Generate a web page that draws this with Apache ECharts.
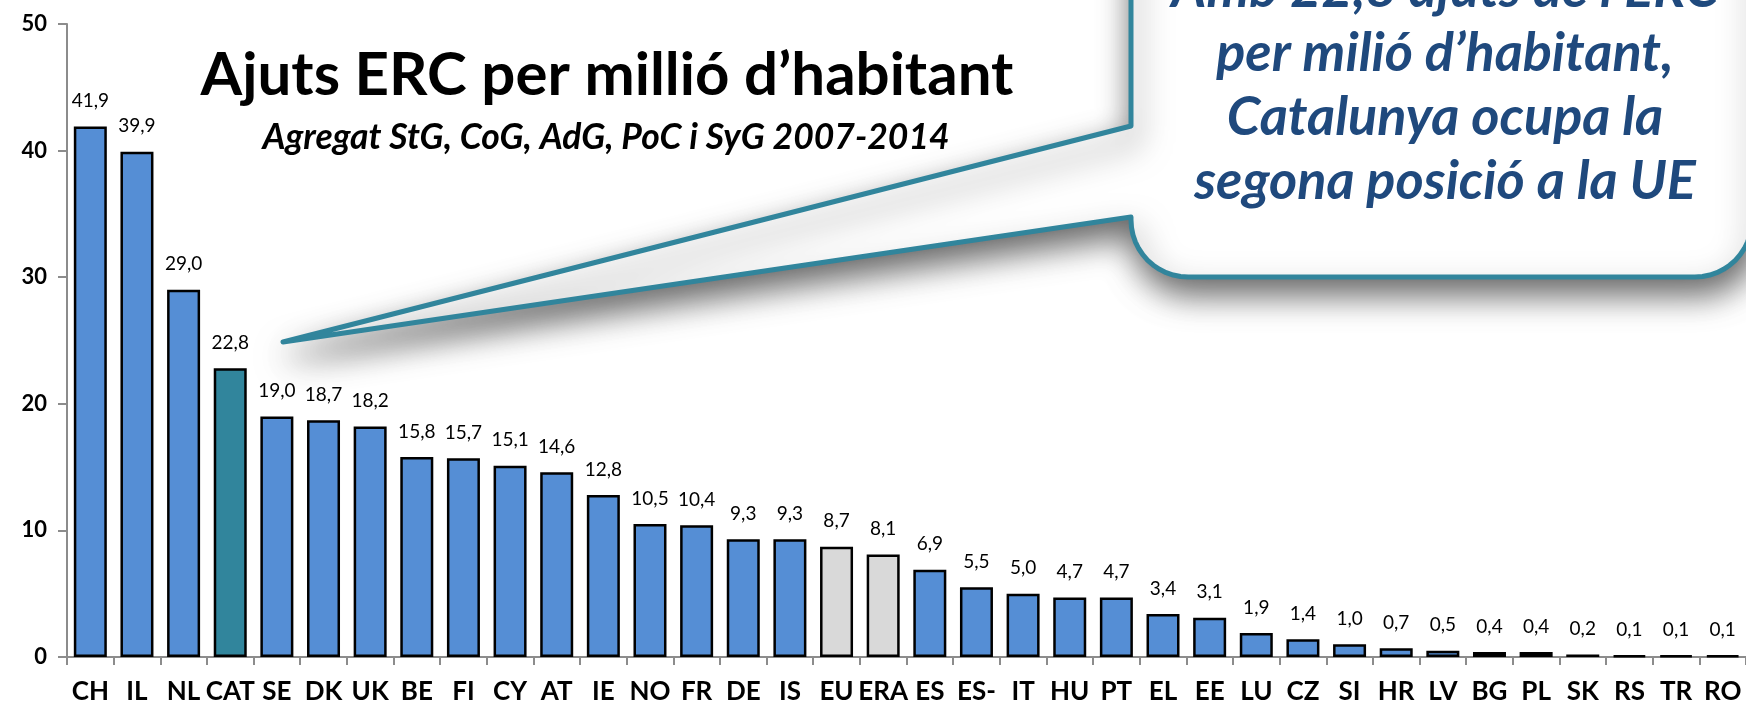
<!DOCTYPE html>
<html>
<head>
<meta charset="utf-8">
<script src="https://cdn.jsdelivr.net/npm/echarts@6/dist/echarts.min.js"></script>
<style>
html,body{margin:0;padding:0;background:#fff;}
#chart{width:1746px;height:705px;}
</style>
</head>
<body>
<div id="chart"></div>
<script>
const categories = ['CH','IL','NL','CAT','SE','DK','UK','BE','FI','CY','AT','IE','NO','FR','DE','IS','EU','ERA','ES','ES-','IT','HU','PT','EL','EE','LU','CZ','SI','HR','LV','BG','PL','SK','RS','TR','RO'];
const values = [41.9,39.9,29.0,22.8,19.0,18.7,18.2,15.8,15.7,15.1,14.6,12.8,10.5,10.4,9.3,9.3,8.7,8.1,6.9,5.5,5.0,4.7,4.7,3.4,3.1,1.9,1.4,1.0,0.7,0.5,0.4,0.4,0.2,0.1,0.1,0.1];
const highlighted = ['CAT'];
const aggregates = ['EU','ERA'];
const yTicks = [0,10,20,30,40,50];

const titleText = 'Ajuts ERC per millió d\u2019habitant';
const subtitleText = 'Agregat StG, CoG, AdG, PoC i SyG 2007-2014';
const calloutLines = ['Amb 22,8 ajuts de l\u2019ERC','per milió d\u2019habitant,','Catalunya ocupa la','segona posició a la UE'];

const COLOR_MAIN = '#558ED5';
const COLOR_CAT = '#31859C';
const COLOR_AGG = '#D9D9D9';
const FONT = 'Lato, "Open Sans", sans-serif';

function fmt(v){ return v.toFixed(1).replace('.', ','); }

const chart = echarts.init(document.getElementById('chart'), null, {renderer:'canvas'});

// callout bubble shape (annotation)
function bubblePoints(){
  const L = 1131, R = 1752, B = 277, T = -80, r = 57;
  const pts = [[L, T],[L,126],[283,342],[L,217]];
  for(let i=0;i<=12;i++){ const a=Math.PI*(1 - i/24); pts.push([L + r + r*Math.cos(a), B - r + r*Math.sin(a)]); }
  for(let i=0;i<=12;i++){ const a=Math.PI*(0.5 - i/24); pts.push([R - r + r*Math.cos(a), B - r + r*Math.sin(a)]); }
  pts.push([R, T]);
  return pts;
}

const option = {
  animation:false,
  backgroundColor:'#ffffff',
  grid:{left:67, right:-8.5, top:24, bottom:48, containLabel:false},
  xAxis:{
    type:'category',
    data:categories,
    boundaryGap:true,
    axisLine:{show:true, lineStyle:{color:'#8c8c8c', width:2}},
    axisTick:{show:true, length:8, lineStyle:{color:'#8c8c8c', width:2}},
    axisLabel:{show:true, interval:0, color:'#000', fontFamily:FONT, fontWeight:'bold', fontSize:26, margin:22},
    splitLine:{show:false}
  },
  yAxis:{
    type:'value',
    min:yTicks[0], max:yTicks[yTicks.length-1], interval:10,
    axisLine:{show:true, lineStyle:{color:'#8c8c8c', width:2}},
    axisTick:{show:true, length:9, lineStyle:{color:'#8c8c8c', width:2}},
    axisLabel:{color:'#000', fontFamily:FONT, fontWeight:'bold', fontSize:22, margin:20},
    splitLine:{show:false}
  },
  series:[{
    type:'bar',
    barWidth:33,
    data: values.map((v,i)=>({
      value:v,
      itemStyle:{
        color: highlighted.includes(categories[i]) ? COLOR_CAT : (aggregates.includes(categories[i]) ? COLOR_AGG : COLOR_MAIN),
        borderColor:'#000', borderWidth:2.5
      }
    })),
    label:{show:true, position:'top', distance:16, color:'#000', fontFamily:FONT, fontSize:19,
      formatter:(p)=>fmt(p.value)}
  }],
  graphic:[
    {type:'text', z:10,
      style:{text:titleText, x:607, y:76, textAlign:'center', textVerticalAlign:'middle', fill:'#000', font:'bold 60px ' + FONT}},
    {type:'text', z:10,
      style:{text:subtitleText, x:606, y:138, textAlign:'center', textVerticalAlign:'middle', fill:'#000', font:'italic bold 35.5px ' + FONT}},
    {type:'polygon', z:20,
      shape:{points:bubblePoints()},
      style:{fill:'#ffffff', stroke:COLOR_CAT, lineWidth:5, lineJoin:'round',
        shadowBlur:32, shadowColor:'rgba(0,0,0,0.6)', shadowOffsetX:4, shadowOffsetY:15}},
    {type:'group', z:30, children: calloutLines.map((t,i)=>({
      type:'text', z:30,
      style:{text:t, x:1445, y:-10 + i*64, textAlign:'center', textVerticalAlign:'middle', fill:'#1F497D', font:'italic bold 54px ' + FONT}
    }))}
  ]
};
chart.setOption(option);
</script>
</body>
</html>
